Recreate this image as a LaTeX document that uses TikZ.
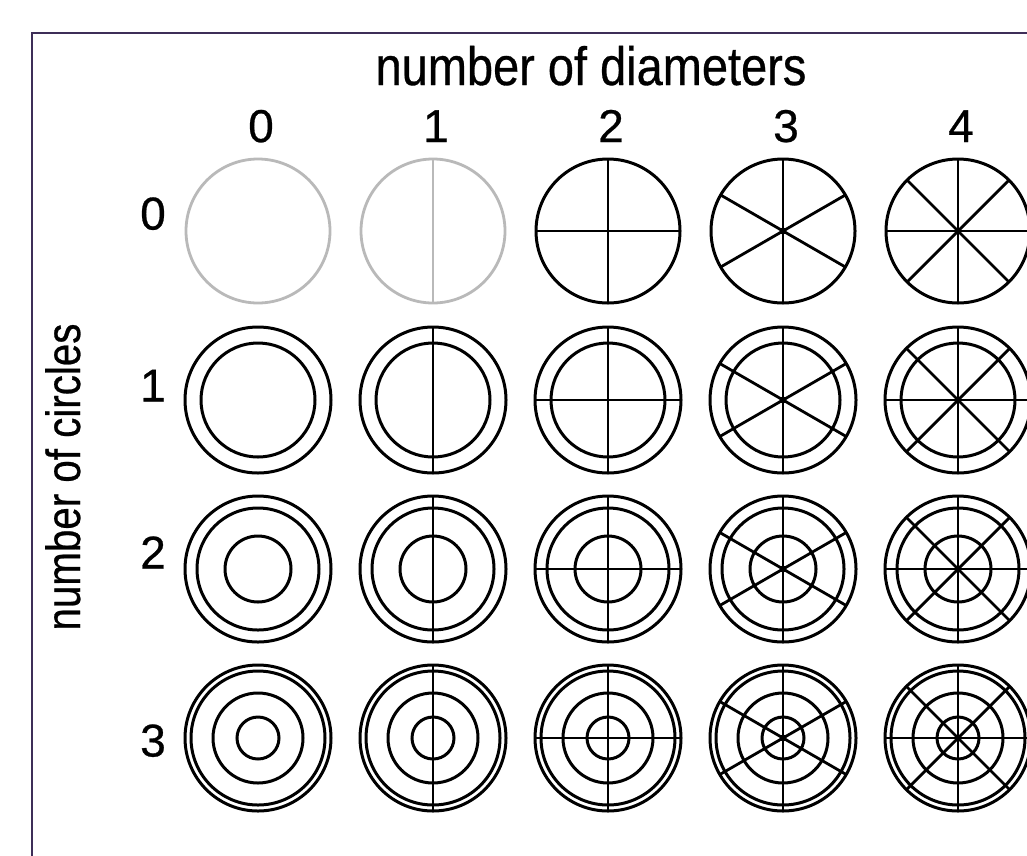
\documentclass[tikz,border=0pt]{standalone}
\usepackage{fontspec}
\setmainfont{Liberation Sans}[FakeBold=0.6]
\definecolor{framec}{RGB}{62,46,88}
\definecolor{faintc}{RGB}{185,185,185}
\tikzset{
  ring/.style={draw=black, line width=3pt},
  spoke/.style={draw=black, line width=2.8pt},
  faintring/.style={draw=faintc, line width=2.8pt},
  faintspoke/.style={draw=faintc, line width=2.6pt},
  framebar/.style={draw=framec, line width=2.4pt},
  digit/.style={font=\fontsize{46}{50}\selectfont, inner sep=0pt, anchor=base},
  heading/.style={font=\fontsize{54}{58}\selectfont, inner sep=0pt, anchor=base}
}
\begin{document}
\begin{tikzpicture}[x=1pt,y=-1pt]
\useasboundingbox (0,0) rectangle (1027,855);
\fill[white] (0,0) rectangle (1027,855);
% frame (left and top edges visible)
\coordinate (fbl) at (32,856);
\coordinate (ftl) at (32,33);
\coordinate (ftr) at (1028,33);
\draw[framebar] (fbl) -- (ftl) -- (ftr);
% headings
\node[heading] (title) at (591,85) {\scalebox{0.87}[1]{number of diameters}};
\node[heading, rotate=90, font=\fontsize{48}{52}\selectfont] (side) at (80,477) {\scalebox{0.84}[1]{number of circles}};
% column labels
\foreach \c/\cx in {0/258,1/433,2/608,3/783,4/958}{
  \node[digit] (col\c) at (\cx+3,142) {\c};
}
% row labels
\foreach \r/\by in {0/229.5,1/401.5,2/568.5,3/756.5}{
  \node[digit] (row\r) at (153,\by) {\r};
}
% glyphs
\foreach \r/\cy/\ro/\radii in {0/231/72/{72}, 1/400/73/{73,57}, 2/569/73/{73,61,33}, 3/738/73/{73,67,45,21}}{
  \foreach \c/\cx/\angs in {0/258/{0}, 1/433/{90}, 2/608/{90,0}, 3/783/{90,30,150}, 4/958/{90,0,45,135}}{
    \coordinate (g\r\c) at (\cx,\cy);
    \pgfmathtruncatemacro{\isfaint}{(\r==0)&&(\c<2)}
    \ifnum\isfaint=1
      \tikzset{curring/.style={faintring}, curspoke/.style={faintspoke}}
    \else
      \tikzset{curring/.style={ring}, curspoke/.style={spoke}}
    \fi
    \foreach \rr in \radii {
      \draw[curring] (g\r\c) circle[radius=\rr pt];
    }
    \ifnum\c>0
      \foreach \a in \angs {
        \draw[curspoke] ([shift={(\a:\ro)}]g\r\c) -- ([shift={(\a+180:\ro)}]g\r\c);
      }
    \fi
    \ifnum\c>2
      \fill (g\r\c) circle[radius=3.5pt];
    \fi
  }
}
\end{tikzpicture}
\end{document}
